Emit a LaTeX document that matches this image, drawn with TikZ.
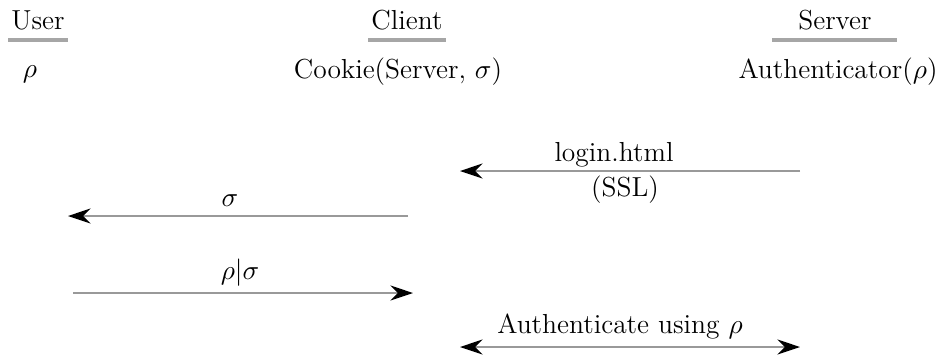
\documentclass[tikz,border=0pt]{standalone}
\usetikzlibrary{arrows.meta}
\begin{document}
\begin{tikzpicture}[x=0.4pt,y=-0.4pt,
  lbl/.style={inner sep=0pt, font=\fontsize{11}{13}\selectfont},
  uline/.style={draw=gray!70, line width=1.4pt},
  msg/.style={draw=gray!80, line width=0.9pt, -{Stealth[length=9pt,width=6pt,black]}},
  msgb/.style={draw=gray!80, line width=0.9pt, {Stealth[length=9pt,width=6pt,black]}-{Stealth[length=9pt,width=6pt,black]}}]
\useasboundingbox (0,0) rectangle (942,356);
% headers
\node[lbl] (user) at (38,20) {User};
\node[lbl] (client) at (407,20) {Client};
\node[lbl] (server) at (835,20) {Server};
\coordinate (u1) at (8,40); \coordinate (u2) at (68,40);
\coordinate (c1) at (368,40); \coordinate (c2) at (446,40);
\coordinate (s1) at (772,40); \coordinate (s2) at (897,40);
\draw[uline] (u1) -- (u2);
\draw[uline] (c1) -- (c2);
\draw[uline] (s1) -- (s2);
\node[lbl] (rho) at (30,74) {$\rho$};
\node[lbl] (cookie) at (398,72) {Cookie(Server, $\sigma$)};
\node[lbl] (auth) at (838,72) {Authenticator($\rho$)};
% messages
\coordinate (a1s) at (800,171); \coordinate (a1e) at (460,171);
\draw[msg] (a1s) -- (a1e);
\node[lbl] (login) at (614,155) {login.html};
\node[lbl] (ssl) at (625,190) {(SSL)};
\coordinate (a2s) at (408,216); \coordinate (a2e) at (68,216);
\draw[msg] (a2s) -- (a2e);
\node[lbl] (sig) at (230,201) {$\sigma$};
\coordinate (a3s) at (73,293); \coordinate (a3e) at (413,293);
\draw[msg] (a3s) -- (a3e);
\node[lbl] (rs) at (240,273) {$\rho|\sigma$};
\coordinate (a4s) at (460,347); \coordinate (a4e) at (800,347);
\draw[msgb] (a4s) -- (a4e);
\node[lbl] (authu) at (620,326) {Authenticate using $\rho$};
\end{tikzpicture}
\end{document}
